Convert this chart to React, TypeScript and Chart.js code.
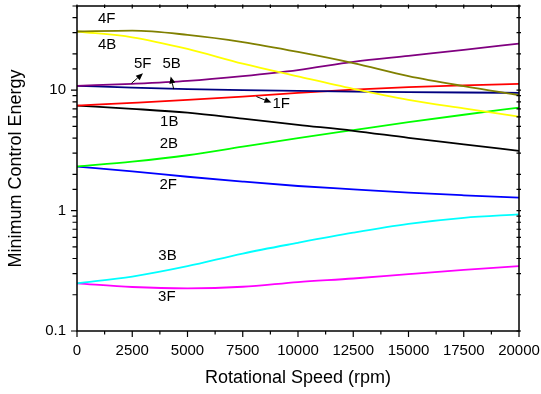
import { useEffect, useRef } from 'react';
import { Chart, registerables } from 'chart.js';

Chart.register(...registerables);

// Rotational speed (rpm)
const speeds = [0, 2500, 5000, 7500, 10000, 12500, 15000, 17500, 20000];

// Minimum control energy per mode
const e4F = [30.7, 31.2, 28.8, 25.1, 20.8, 16.8, 13.1, 10.8, 9.1];
const e4B = [30.7, 27.5, 22.0, 16.6, 13.0, 10.25, 8.3, 7.05, 6.03];
const e5B = [10.86, 11.3, 11.95, 13.1, 14.7, 17.2, 19.3, 21.6, 24.4];
const e5F = [10.86, 10.5, 10.2, 10.0, 9.87, 9.74, 9.64, 9.56, 9.5];
const e1F = [7.45, 7.85, 8.3, 8.85, 9.5, 10.1, 10.6, 10.95, 11.3];
const e1B = [7.45, 7.0, 6.5, 5.8, 5.15, 4.6, 4.02, 3.55, 3.13];
const e2B = [2.32, 2.55, 2.88, 3.4, 4.0, 4.66, 5.42, 6.25, 7.17];
const e2F = [2.32, 2.12, 1.91, 1.74, 1.6, 1.5, 1.41, 1.34, 1.28];
const e3B = [0.249, 0.283, 0.345, 0.44, 0.54, 0.655, 0.775, 0.87, 0.93];
const e3F = [0.249, 0.232, 0.226, 0.233, 0.255, 0.273, 0.297, 0.322, 0.346];

const seriesNames = ['4F', '4B', '5B', '5F', '1F', '1B', '2B', '2F', '3B', '3F'];
const seriesValues = [e4F, e4B, e5B, e5F, e1F, e1B, e2B, e2F, e3B, e3F];
const seriesColors = ['#808000', '#FFFF00', '#800080', '#000080', '#FF0000', '#000000', '#00FF00', '#0000FF', '#00FFFF', '#FF00FF'];

// In-plot text labels (data coordinates)
const labelText = ['4F', '4B', '5F', '5B', '1F', '1B', '2B', '2F', '3B', '3F'];
const labelX = [1345, 1360, 2972, 4285, 9240, 4175, 4160, 4128, 4097, 4066];
const labelY = [39.3, 23.7, 16.6, 16.6, 7.65, 5.48, 3.59, 1.62, 0.424, 0.191];

// Pointer arrows (data coordinates, tail -> head)
const arrowFromX = [2462, 4376, 8118];
const arrowFromY = [11.4, 10.2, 8.85];
const arrowToX = [2986, 4240, 8796];
const arrowToY = [13.8, 13.0, 7.89];

const xTitle = 'Rotational Speed (rpm)';
const yTitle = 'Minimum Control Energy';

const FONT = '"Liberation Sans", Arial, Helvetica, sans-serif';

const isPow10 = (v: number) => Math.abs(Math.log10(v) - Math.round(Math.log10(v))) < 1e-6;

export default function App() {
  const ref = useRef<HTMLCanvasElement>(null);

  useEffect(() => {
    if (!ref.current) return;

    const decor = {
      id: 'decor',
      afterDatasetsDraw(chart: any) {
        const { ctx, chartArea: a, scales } = chart;
        const x = scales.x;
        const y = scales.y;
        ctx.save();
        // labels
        ctx.fillStyle = '#000';
        ctx.font = `15px ${FONT}`;
        ctx.textAlign = 'center';
        ctx.textBaseline = 'middle';
        for (let i = 0; i < labelText.length; i++) {
          ctx.fillText(labelText[i], x.getPixelForValue(labelX[i]), y.getPixelForValue(labelY[i]));
        }
        // arrows
        ctx.strokeStyle = '#000';
        ctx.lineWidth = 1;
        for (let i = 0; i < arrowFromX.length; i++) {
          const x0 = x.getPixelForValue(arrowFromX[i]);
          const y0 = y.getPixelForValue(arrowFromY[i]);
          const x1 = x.getPixelForValue(arrowToX[i]);
          const y1 = y.getPixelForValue(arrowToY[i]);
          const ang = Math.atan2(y1 - y0, x1 - x0);
          const hl = 7, hw = 3;
          const bx = x1 - hl * Math.cos(ang);
          const by = y1 - hl * Math.sin(ang);
          ctx.beginPath();
          ctx.moveTo(x0, y0);
          ctx.lineTo(bx, by);
          ctx.stroke();
          ctx.beginPath();
          ctx.moveTo(x1, y1);
          ctx.lineTo(bx + hw * Math.sin(ang), by - hw * Math.cos(ang));
          ctx.lineTo(bx - hw * Math.sin(ang), by + hw * Math.cos(ang));
          ctx.closePath();
          ctx.fill();
        }
        // frame
        ctx.lineWidth = 1.5;
        ctx.strokeRect(a.left, a.top, a.right - a.left, a.bottom - a.top);
        // x ticks
        ctx.lineWidth = 1.2;
        const xt = x.ticks.map((t: any) => t.value);
        ctx.beginPath();
        for (let i = 0; i < xt.length; i++) {
          const px = x.getPixelForValue(xt[i]);
          ctx.moveTo(px, a.bottom);
          ctx.lineTo(px, a.bottom + 6);
          ctx.moveTo(px, a.top - 1.5);
          ctx.lineTo(px, a.top + 2.5);
          if (i < xt.length - 1) {
            const pm = x.getPixelForValue((xt[i] + xt[i + 1]) / 2);
            ctx.moveTo(pm, a.bottom);
            ctx.lineTo(pm, a.bottom + 3.5);
            ctx.moveTo(pm, a.top - 1.5);
            ctx.lineTo(pm, a.top + 2);
          }
        }
        // y ticks
        const yt = y.ticks.map((t: any) => t.value);
        for (const v of yt) {
          const py = y.getPixelForValue(v);
          const len = isPow10(v) ? 6 : 4.5;
          ctx.moveTo(a.left - len, py);
          ctx.lineTo(a.left, py);
          ctx.moveTo(a.right - 2.5, py);
          ctx.lineTo(a.right + 2, py);
        }
        ctx.stroke();
        ctx.restore();
      },
    };

    const chart = new Chart(ref.current, {
      type: 'line',
      data: {
        datasets: seriesNames.map((name, i) => ({
          label: name,
          data: speeds.map((s, j) => ({ x: s, y: seriesValues[i][j] })),
          borderColor: seriesColors[i],
          backgroundColor: seriesColors[i],
          borderWidth: 1.8,
          pointRadius: 0,
          fill: false,
          cubicInterpolationMode: 'monotone' as const,
        })),
      },
      options: {
        responsive: false,
        animation: false,
        devicePixelRatio: 1,
        layout: { padding: { left: 0, right: 22, top: 6, bottom: 0 } },
        plugins: {
          legend: { display: false },
          tooltip: { enabled: false },
        },
        scales: {
          x: {
            type: 'linear',
            min: 0,
            max: 20000,
            grid: { display: false, drawTicks: false },
            border: { display: false },
            ticks: {
              stepSize: 2500,
              autoSkip: false,
              maxRotation: 0,
              padding: 11,
              color: '#000',
              font: { family: FONT, size: 15 },
              callback: (v: any) => String(v),
            },
            title: {
              display: true,
              text: xTitle,
              color: '#000',
              font: { family: FONT, size: 18 },
              padding: { top: 0, bottom: 5 },
            },
            afterFit: (s: any) => {
              s.height = 63;
              s.paddingLeft = 0;
              s.paddingRight = 0;
              s.paddingTop = 0;
              s.paddingBottom = 0;
            },
          },
          y: {
            type: 'logarithmic',
            min: 0.1,
            max: 50,
            grid: { display: false, drawTicks: false },
            border: { display: false },
            ticks: {
              autoSkip: false,
              padding: 11,
              color: '#000',
              font: { family: FONT, size: 15 },
              callback: (v: any) => (isPow10(Number(v)) ? String(Number(v)) : ''),
            },
            title: {
              display: true,
              text: yTitle,
              color: '#000',
              font: { family: FONT, size: 18 },
              padding: { top: 5.5, bottom: 0 },
            },
            afterFit: (s: any) => {
              s.width = 77;
              s.paddingLeft = 0;
              s.paddingRight = 0;
              s.paddingTop = 0;
              s.paddingBottom = 0;
            },
          },
        },
      },
      plugins: [decor],
    } as any);

    return () => chart.destroy();
  }, []);

  return (
    <canvas
      ref={ref}
      width={541}
      height={394}
      style={{ position: 'fixed', left: 0, top: 0, width: 541, height: 394, display: 'block', background: '#fff' }}
    />
  );
}
